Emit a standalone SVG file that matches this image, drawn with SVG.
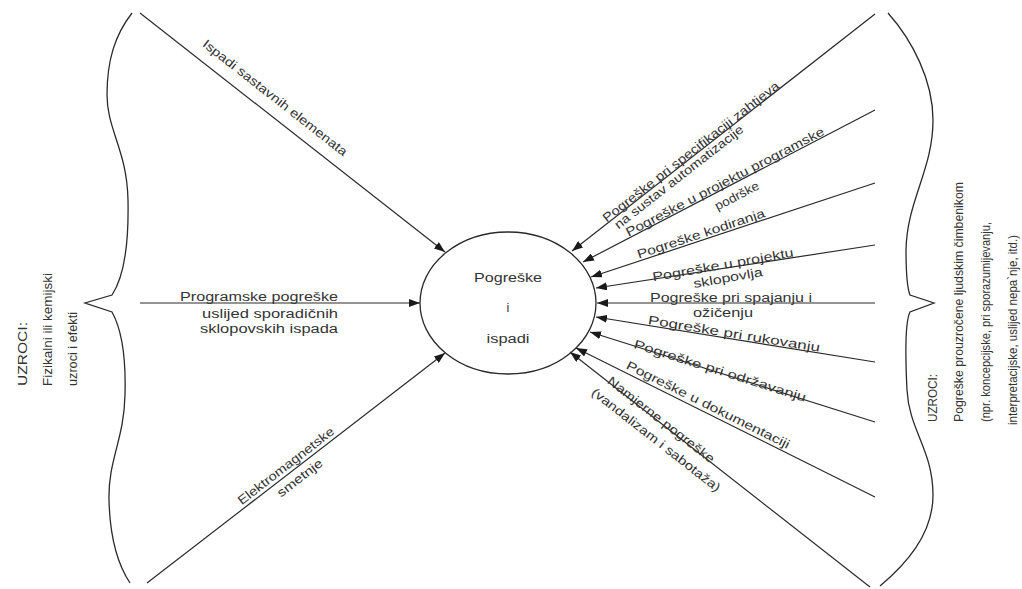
<svg xmlns="http://www.w3.org/2000/svg" width="1022" height="589" viewBox="0 0 1022 589">
<style>
.t{font-family:"Liberation Sans",Arial,sans-serif;font-size:12.5px;fill:#333333}
.v{font-family:"Liberation Sans",Arial,sans-serif;font-size:12px;fill:#333333}
.ln{stroke:#2a2a2a;stroke-width:1.2;fill:none}
.br{stroke:#2a2a2a;stroke-width:1.3;fill:none}
</style>
<defs>
<marker id="ah" markerUnits="userSpaceOnUse" markerWidth="11" markerHeight="8" refX="11" refY="4" orient="auto">
<path d="M0,0 L11,4 L0,8 z" fill="#1a1a1a"/>
</marker>
</defs>
<rect width="1022" height="589" fill="#ffffff"/>

<g id="left-bracket">
<path class="br" d="M132,13 C115,35 107,60 107,95 C107,130 127,150 128,200 C129,250 122,280 112,295 L85,303 L112,312 C122,330 126,360 125,395 C124,440 108,460 109,500 C110,540 118,565 130,583"/>
</g>
<g id="right-bracket">
<path class="br" d="M888,13 C912,40 933,80 933,120 C933,170 907,200 906,250 C906,275 908,290 910,295 L934,303 L910,312 C906,320 905,350 907,390 C909,430 933,450 933,495 C933,535 905,565 880,586"/>
</g>

<g id="connectors">
<line class="ln" x1="140" y1="13" x2="445" y2="252" marker-end="url(#ah)"/>
<line class="ln" x1="140" y1="303" x2="420" y2="303" marker-end="url(#ah)"/>
<line class="ln" x1="147" y1="583" x2="445" y2="353" marker-end="url(#ah)"/>
<line class="ln" x1="875" y1="14" x2="572" y2="251" marker-end="url(#ah)"/>
<line class="ln" x1="875" y1="110" x2="583" y2="262" marker-end="url(#ah)"/>
<line class="ln" x1="875" y1="183" x2="591" y2="277" marker-end="url(#ah)"/>
<line class="ln" x1="875" y1="245" x2="596" y2="288" marker-end="url(#ah)"/>
<line class="ln" x1="875" y1="303" x2="597" y2="303" marker-end="url(#ah)"/>
<line class="ln" x1="875" y1="362" x2="596" y2="317" marker-end="url(#ah)"/>
<line class="ln" x1="875" y1="422" x2="590" y2="332" marker-end="url(#ah)"/>
<line class="ln" x1="875" y1="497" x2="576" y2="348" marker-end="url(#ah)"/>
<line class="ln" x1="870" y1="587" x2="570" y2="352" marker-end="url(#ah)"/>
</g>

<g id="center-node">
<ellipse cx="508" cy="303" rx="88" ry="71" class="br"/>
<text class="t" x="508" y="282" text-anchor="middle" textLength="68" lengthAdjust="spacingAndGlyphs">Pogreške</text>
<text class="t" x="508" y="312" text-anchor="middle">i</text>
<text class="t" x="508" y="343" text-anchor="middle" textLength="43" lengthAdjust="spacingAndGlyphs">ispadi</text>
</g>

<g id="label-ispadi" transform="translate(275,98) rotate(38.1)">
<text class="t" x="0" y="4" text-anchor="middle" textLength="180" lengthAdjust="spacingAndGlyphs">Ispadi sastavnih elemenata</text>
</g>
<g id="label-programske">
<text class="t" x="259" y="301" text-anchor="middle" textLength="158" lengthAdjust="spacingAndGlyphs">Programske pogreške</text>
<text class="t" x="270" y="318" text-anchor="middle" textLength="136" lengthAdjust="spacingAndGlyphs">uslijed sporadičnih</text>
<text class="t" x="269" y="333" text-anchor="middle" textLength="138" lengthAdjust="spacingAndGlyphs">sklopovskih ispada</text>
</g>
<g id="label-elektro">
<g transform="translate(286,466) rotate(-37.7)"><text class="t" x="0" y="4" text-anchor="middle" textLength="118" lengthAdjust="spacingAndGlyphs">Elektromagnetske</text></g>
<g transform="translate(300,478) rotate(-37.7)"><text class="t" x="0" y="4" text-anchor="middle" textLength="54" lengthAdjust="spacingAndGlyphs">smetnje</text></g>
</g>

<g id="label-specifikacija">
<g transform="translate(691,152) rotate(-38)"><text class="t" x="0" y="4" text-anchor="middle" textLength="220" lengthAdjust="spacingAndGlyphs">Pogreške pri specifikaciji zahtjeva</text></g>
<g transform="translate(679,177) rotate(-38)"><text class="t" x="0" y="4" text-anchor="middle" textLength="160" lengthAdjust="spacingAndGlyphs">na sustav automatizacije</text></g>
</g>
<g id="label-programske-podrske">
<g transform="translate(725,182) rotate(-27.5)"><text class="t" x="0" y="4" text-anchor="middle" textLength="222" lengthAdjust="spacingAndGlyphs">Pogreške u projektu programske</text></g>
<g transform="translate(737,196) rotate(-27.5)"><text class="t" x="0" y="4" text-anchor="middle" textLength="48" lengthAdjust="spacingAndGlyphs">podrške</text></g>
</g>
<g id="label-kodiranja">
<g transform="translate(701,234) rotate(-18.3)"><text class="t" x="0" y="4" text-anchor="middle" textLength="134" lengthAdjust="spacingAndGlyphs">Pogreške kodiranja</text></g>
</g>
<g id="label-sklopovlja">
<g transform="translate(723,265) rotate(-10)"><text class="t" x="0" y="4" text-anchor="middle" textLength="143" lengthAdjust="spacingAndGlyphs">Pogreške u projektu</text></g>
<g transform="translate(728,278) rotate(-10)"><text class="t" x="0" y="4" text-anchor="middle" textLength="70" lengthAdjust="spacingAndGlyphs">sklopovlja</text></g>
</g>
<g id="label-spajanju">
<text class="t" x="731" y="302" text-anchor="middle" textLength="162" lengthAdjust="spacingAndGlyphs">Pogreške pri spajanju i</text>
<text class="t" x="723" y="317" text-anchor="middle" textLength="60" lengthAdjust="spacingAndGlyphs">ožičenju</text>
</g>
<g id="label-rukovanju">
<g transform="translate(734,334) rotate(9.2)"><text class="t" x="0" y="4" text-anchor="middle" textLength="174" lengthAdjust="spacingAndGlyphs">Pogreške pri rukovanju</text></g>
</g>
<g id="label-odrzavanju">
<g transform="translate(720,371) rotate(17.5)"><text class="t" x="0" y="4" text-anchor="middle" textLength="180" lengthAdjust="spacingAndGlyphs">Pogreške pri održavanju</text></g>
</g>
<g id="label-dokumentaciji">
<g transform="translate(708,405) rotate(26.5)"><text class="t" x="0" y="4" text-anchor="middle" textLength="181" lengthAdjust="spacingAndGlyphs">Pogreške u dokumentaciji</text></g>
</g>
<g id="label-namjerne">
<g transform="translate(661,420) rotate(38)"><text class="t" x="0" y="4" text-anchor="middle" textLength="132" lengthAdjust="spacingAndGlyphs">Namjerne pogreške</text></g>
<g transform="translate(656,440) rotate(38)"><text class="t" x="0" y="4" text-anchor="middle" textLength="160" lengthAdjust="spacingAndGlyphs">(vandalizam i sabotaža)</text></g>
</g>

<g id="left-causes">
<text class="v" transform="translate(27,386) rotate(-90)" textLength="64" lengthAdjust="spacingAndGlyphs">UZROCI:</text>
<text class="v" transform="translate(52,386) rotate(-90)" textLength="113" lengthAdjust="spacingAndGlyphs">Fizikalni ili kemijski</text>
<text class="v" transform="translate(77,386) rotate(-90)" textLength="74" lengthAdjust="spacingAndGlyphs">uzroci i efekti</text>
</g>
<g id="right-causes">
<text class="v" transform="translate(937,422) rotate(-90)" textLength="48" lengthAdjust="spacingAndGlyphs">UZROCI:</text>
<text class="v" transform="translate(963,422) rotate(-90)" textLength="240" lengthAdjust="spacingAndGlyphs">Pogreške prouzročene ljudskim čimbenikom</text>
<text class="v" transform="translate(990,422) rotate(-90)" textLength="200" lengthAdjust="spacingAndGlyphs">(npr. koncepcijske, pri sporazumijevanju,</text>
<text class="v" transform="translate(1017,425) rotate(-90)" textLength="190" lengthAdjust="spacingAndGlyphs">interpretacijske, uslijed nepa`nje, itd.)</text>
</g>
</svg>
